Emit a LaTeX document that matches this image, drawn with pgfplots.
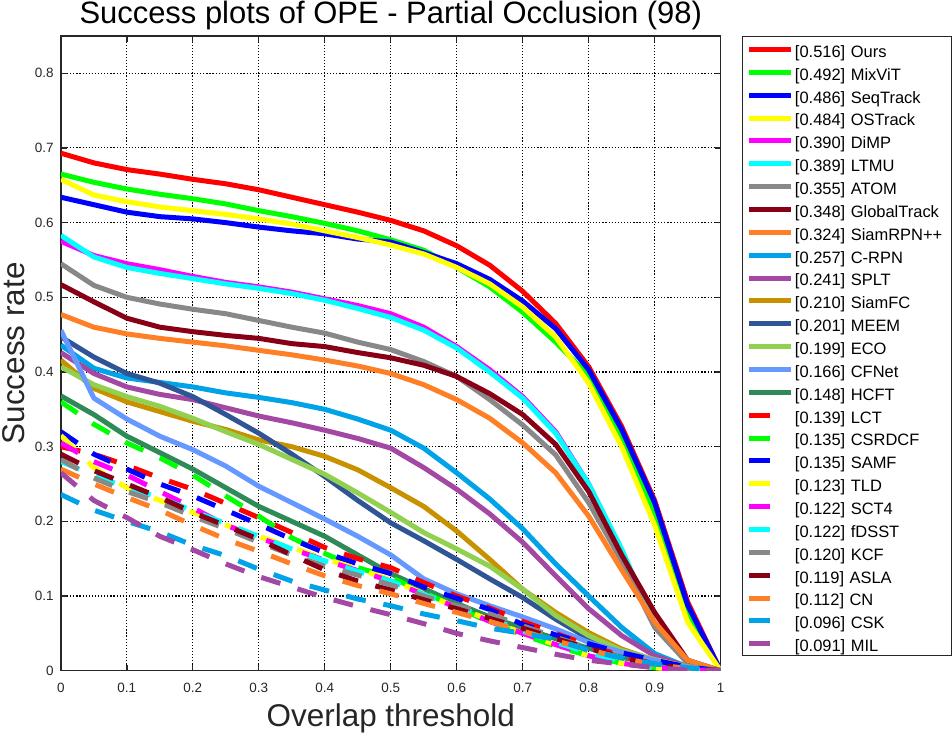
\documentclass[border=0pt]{standalone}
\usepackage{fontspec}
\setmainfont{Liberation Sans}
\usepackage{pgfplots}
\usepackage{pgfplotstable}
\pgfplotsset{compat=1.18}

\definecolor{axgray}{RGB}{38,38,38}
\definecolor{cRed}{RGB}{255,0,0}
\definecolor{cGreen}{RGB}{0,255,0}
\definecolor{cBlue}{RGB}{0,0,255}
\definecolor{cYellow}{RGB}{255,255,0}
\definecolor{cMagenta}{RGB}{255,0,255}
\definecolor{cCyan}{RGB}{0,255,255}
\definecolor{cGray}{RGB}{136,136,136}
\definecolor{cDarkRed}{RGB}{136,0,21}
\definecolor{cOrange}{RGB}{255,127,39}
\definecolor{cSky}{RGB}{0,162,232}
\definecolor{cPurple}{RGB}{163,73,164}
\definecolor{cGold}{RGB}{200,145,0}
\definecolor{cNavy}{RGB}{47,85,151}
\definecolor{cLime}{RGB}{146,208,80}
\definecolor{cCorn}{RGB}{102,153,255}
\definecolor{cSea}{RGB}{46,139,87}

\pgfplotstableread{
x    ours  mixvit seqtr ostr  dimp  ltmu  atom  glob  srpn  crpn  splt  sfc   meem  eco   cfnet hcft
0.00 0.693 0.665 0.634 0.658 0.575 0.583 0.545 0.517 0.477 0.436 0.426 0.416 0.447 0.407 0.456 0.368
0.05 0.680 0.654 0.624 0.637 0.556 0.554 0.516 0.494 0.460 0.405 0.398 0.378 0.420 0.383 0.365 0.343
0.10 0.671 0.645 0.614 0.628 0.545 0.540 0.500 0.472 0.451 0.392 0.380 0.360 0.398 0.367 0.337 0.314
0.15 0.665 0.638 0.608 0.621 0.537 0.532 0.491 0.460 0.445 0.386 0.370 0.347 0.385 0.354 0.314 0.292
0.20 0.658 0.632 0.605 0.616 0.528 0.525 0.484 0.454 0.440 0.380 0.363 0.334 0.367 0.338 0.296 0.270
0.25 0.652 0.625 0.600 0.611 0.520 0.518 0.478 0.449 0.435 0.372 0.352 0.323 0.343 0.320 0.274 0.245
0.30 0.644 0.616 0.594 0.605 0.514 0.512 0.469 0.445 0.429 0.366 0.341 0.309 0.318 0.303 0.247 0.220
0.35 0.634 0.608 0.589 0.598 0.507 0.505 0.460 0.438 0.423 0.359 0.332 0.300 0.290 0.283 0.225 0.200
0.40 0.624 0.599 0.585 0.589 0.498 0.496 0.452 0.434 0.416 0.350 0.322 0.287 0.260 0.263 0.203 0.180
0.45 0.614 0.589 0.578 0.580 0.489 0.485 0.440 0.426 0.408 0.337 0.311 0.269 0.228 0.238 0.180 0.155
0.50 0.603 0.577 0.574 0.570 0.478 0.473 0.430 0.419 0.398 0.322 0.298 0.245 0.198 0.212 0.155 0.130
0.55 0.589 0.563 0.560 0.558 0.460 0.456 0.414 0.409 0.383 0.298 0.272 0.220 0.174 0.185 0.123 0.110
0.60 0.569 0.540 0.545 0.540 0.434 0.432 0.394 0.394 0.363 0.265 0.243 0.187 0.149 0.163 0.103 0.090
0.65 0.543 0.514 0.524 0.518 0.403 0.400 0.363 0.371 0.338 0.230 0.210 0.149 0.123 0.140 0.087 0.072
0.70 0.508 0.480 0.495 0.487 0.367 0.365 0.329 0.343 0.305 0.190 0.172 0.109 0.098 0.109 0.072 0.057
0.75 0.465 0.440 0.458 0.447 0.320 0.318 0.289 0.303 0.265 0.143 0.127 0.078 0.069 0.074 0.056 0.043
0.80 0.407 0.395 0.403 0.385 0.250 0.250 0.225 0.240 0.207 0.100 0.083 0.051 0.043 0.047 0.038 0.030
0.85 0.327 0.312 0.323 0.300 0.160 0.163 0.147 0.155 0.135 0.058 0.047 0.029 0.025 0.027 0.025 0.018
0.90 0.228 0.212 0.225 0.195 0.062 0.062 0.058 0.078 0.065 0.023 0.020 0.014 0.012 0.015 0.014 0.009
0.95 0.092 0.080 0.088 0.065 0.012 0.012 0.010 0.014 0.014 0.005 0.005 0.006 0.004 0.005 0.005 0.003
1.00 0     0     0     0     0     0     0     0     0     0     0     0     0     0     0     0
}\solidtab

\pgfplotstableread{
x    lct   csrdcf samf tld   sct4  fdsst kcf   asla  cn    csk   mil
0.00 0.300 0.360 0.320 0.315 0.305 0.280 0.283 0.290 0.270 0.236 0.265
0.05 0.290 0.330 0.290 0.272 0.280 0.262 0.258 0.268 0.250 0.215 0.228
0.10 0.275 0.305 0.270 0.245 0.262 0.245 0.240 0.250 0.232 0.200 0.205
0.15 0.258 0.285 0.250 0.228 0.240 0.232 0.225 0.232 0.215 0.186 0.180
0.20 0.243 0.262 0.234 0.212 0.218 0.214 0.207 0.212 0.195 0.168 0.162
0.25 0.224 0.234 0.215 0.195 0.195 0.197 0.190 0.194 0.176 0.154 0.143
0.30 0.205 0.207 0.196 0.180 0.178 0.180 0.172 0.176 0.160 0.136 0.126
0.35 0.185 0.178 0.176 0.165 0.163 0.163 0.155 0.155 0.143 0.120 0.112
0.40 0.165 0.157 0.158 0.150 0.148 0.147 0.140 0.135 0.127 0.108 0.098
0.45 0.150 0.138 0.143 0.136 0.134 0.133 0.128 0.120 0.114 0.096 0.086
0.50 0.138 0.125 0.130 0.122 0.120 0.120 0.115 0.108 0.103 0.087 0.075
0.55 0.118 0.105 0.112 0.103 0.102 0.102 0.100 0.095 0.090 0.076 0.063
0.60 0.100 0.085 0.097 0.085 0.085 0.086 0.087 0.083 0.078 0.067 0.050
0.65 0.084 0.065 0.082 0.068 0.066 0.070 0.076 0.070 0.066 0.057 0.040
0.70 0.066 0.048 0.062 0.050 0.050 0.053 0.060 0.057 0.053 0.050 0.031
0.75 0.050 0.033 0.048 0.035 0.035 0.038 0.045 0.043 0.040 0.042 0.022
0.80 0.034 0.020 0.036 0.020 0.020 0.024 0.030 0.030 0.028 0.027 0.014
0.85 0.020 0.010 0.024 0.010 0.010 0.013 0.017 0.018 0.017 0.017 0.009
0.90 0.009 0.004 0.014 0.004 0.004 0.005 0.007 0.008 0.008 0.009 0.004
0.95 0.003 0.001 0.005 0.001 0.001 0.001 0.002 0.003 0.003 0.004 0.001
1.00 0     0     0     0     0     0     0     0     0     0     0
}\dashtab

\pgfplotsset{
  solidleg/.style={line width=5pt, line join=round,
    legend image code/.code={\draw[##1] (0pt,7.8pt) -- (42pt,7.8pt); \path[draw=none,fill=none] (0pt,7.8pt) -- (45.6pt,7.8pt);}},
  dashleg/.style={line width=5pt, dash pattern=on 20pt off 18pt,
    legend image code/.code={\draw[##1,solid] (0pt,7.8pt) -- (21pt,7.8pt); \path[draw=none,fill=none] (0pt,7.8pt) -- (45.6pt,7.8pt);}},
}

\begin{document}
\begin{tikzpicture}
\begin{axis}[
  at={(0pt,0pt)}, anchor=south west,
  width=661pt, height=636pt, scale only axis,
  xmin=0, xmax=1, ymin=0, ymax=0.85,
  xtick={0,0.1,0.2,0.3,0.4,0.5,0.6,0.7,0.8,0.9,1},
  xticklabels={0,0.1,0.2,0.3,0.4,0.5,0.6,0.7,0.8,0.9,1},
  ytick={0,0.1,0.2,0.3,0.4,0.5,0.6,0.7,0.8},
  yticklabels={0,0.1,0.2,0.3,0.4,0.5,0.6,0.7,0.8},
  tick pos=both, xticklabel pos=bottom, yticklabel pos=left,
  tick align=inside, major tick length=6pt,
  grid=major,
  major grid style={black, line width=1.1pt, dash pattern=on 1.2pt off 1.9pt},
  axis line style={draw=axgray, line width=1.3pt},
  tick style={draw=axgray, line width=1.3pt},
  tick label style={font=\fontsize{13.5}{13.5}\selectfont, text=axgray},
  yticklabel style={font=\fontsize{13.5}{13.5}\selectfont, text=axgray, anchor=east, inner sep=0pt, xshift=-7pt},
  xticklabel style={font=\fontsize{13.5}{13.5}\selectfont, text=axgray, anchor=north, inner sep=0pt, yshift=-12pt},
  every axis title shift=0pt,
  title={Success plots of OPE - Partial Occlusion (98)},
  title style={font=\fontsize{31}{31}\selectfont, inner sep=0pt, anchor=base,
    at={([yshift=12.5pt]axis description cs:0.5,1)}, text=black},
  xlabel={Overlap threshold},
  xlabel style={font=\fontsize{31.5}{31.5}\selectfont, inner sep=0pt, anchor=base,
    at={([yshift=-56pt]axis description cs:0.5,0)}, text=axgray},
  ylabel={Success rate},
  ylabel style={font=\fontsize{31.5}{31.5}\selectfont, inner sep=0pt, anchor=base,
    at={([xshift=-36.7pt]axis description cs:0,0.5)}, text=axgray},
  legend style={at={(1.03177,1)}, anchor=north west, draw=axgray, line width=1.3pt,
    inner xsep=4.7pt, inner ysep=1.05pt, row sep=0pt,
    font=\fontsize{16.5}{16.5}\selectfont,
    nodes={inner sep=0pt, anchor=base west, text height=19.75pt, text depth=3.15pt,
      text width=152pt, align=left, text=black}},
]
\addplot[draw=cRed, solidleg] table[x=x,y=ours]{\solidtab};
\addlegendentry{[0.516] Ours}
\addplot[draw=cGreen, solidleg] table[x=x,y=mixvit]{\solidtab};
\addlegendentry{[0.492] MixViT}
\addplot[draw=cBlue, solidleg] table[x=x,y=seqtr]{\solidtab};
\addlegendentry{[0.486] SeqTrack}
\addplot[draw=cYellow, solidleg] table[x=x,y=ostr]{\solidtab};
\addlegendentry{[0.484] OSTrack}
\addplot[draw=cMagenta, solidleg] table[x=x,y=dimp]{\solidtab};
\addlegendentry{[0.390] DiMP}
\addplot[draw=cCyan, solidleg] table[x=x,y=ltmu]{\solidtab};
\addlegendentry{[0.389] LTMU}
\addplot[draw=cGray, solidleg] table[x=x,y=atom]{\solidtab};
\addlegendentry{[0.355] ATOM}
\addplot[draw=cDarkRed, solidleg] table[x=x,y=glob]{\solidtab};
\addlegendentry{[0.348] GlobalTrack}
\addplot[draw=cOrange, solidleg] table[x=x,y=srpn]{\solidtab};
\addlegendentry{[0.324] SiamRPN++}
\addplot[draw=cSky, solidleg] table[x=x,y=crpn]{\solidtab};
\addlegendentry{[0.257] C-RPN}
\addplot[draw=cPurple, solidleg] table[x=x,y=splt]{\solidtab};
\addlegendentry{[0.241] SPLT}
\addplot[draw=cGold, solidleg] table[x=x,y=sfc]{\solidtab};
\addlegendentry{[0.210] SiamFC}
\addplot[draw=cNavy, solidleg] table[x=x,y=meem]{\solidtab};
\addlegendentry{[0.201] MEEM}
\addplot[draw=cLime, solidleg] table[x=x,y=eco]{\solidtab};
\addlegendentry{[0.199] ECO}
\addplot[draw=cCorn, solidleg] table[x=x,y=cfnet]{\solidtab};
\addlegendentry{[0.166] CFNet}
\addplot[draw=cSea, solidleg] table[x=x,y=hcft]{\solidtab};
\addlegendentry{[0.148] HCFT}
\addplot[draw=cRed, dashleg] table[x=x,y=lct]{\dashtab};
\addlegendentry{[0.139] LCT}
\addplot[draw=cGreen, dashleg] table[x=x,y=csrdcf]{\dashtab};
\addlegendentry{[0.135] CSRDCF}
\addplot[draw=cBlue, dashleg] table[x=x,y=samf]{\dashtab};
\addlegendentry{[0.135] SAMF}
\addplot[draw=cYellow, dashleg] table[x=x,y=tld]{\dashtab};
\addlegendentry{[0.123] TLD}
\addplot[draw=cMagenta, dashleg] table[x=x,y=sct4]{\dashtab};
\addlegendentry{[0.122] SCT4}
\addplot[draw=cCyan, dashleg] table[x=x,y=fdsst]{\dashtab};
\addlegendentry{[0.122] fDSST}
\addplot[draw=cGray, dashleg] table[x=x,y=kcf]{\dashtab};
\addlegendentry{[0.120] KCF}
\addplot[draw=cDarkRed, dashleg] table[x=x,y=asla]{\dashtab};
\addlegendentry{[0.119] ASLA}
\addplot[draw=cOrange, dashleg] table[x=x,y=cn]{\dashtab};
\addlegendentry{[0.112] CN}
\addplot[draw=cSky, dashleg] table[x=x,y=csk]{\dashtab};
\addlegendentry{[0.096] CSK}
\addplot[draw=cPurple, dashleg] table[x=x,y=mil]{\dashtab};
\addlegendentry{[0.091] MIL}
\end{axis}
\path (-61pt,-63pt) rectangle (891pt,672pt);
\end{tikzpicture}
\end{document}
